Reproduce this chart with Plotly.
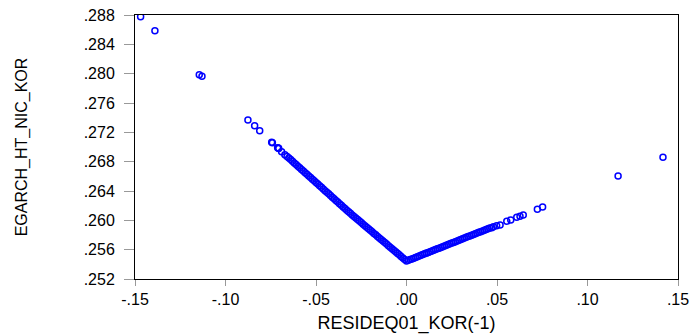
import plotly.graph_objects as go

# Isolated / sparse points
x_left_sparse = [-0.1469, -0.1390, -0.1145, -0.1130, -0.0876, -0.0839, -0.0811,
                 -0.0745, -0.0741, -0.0712, -0.0708, -0.0706, -0.0690, -0.0672]
y_left_sparse = [0.28777, 0.28586, 0.27986, 0.27964, 0.27368, 0.27291, 0.27222,
                 0.27065, 0.27059, 0.26991, 0.26985, 0.26980, 0.26935, 0.26895]

# Dense left branch (read along the band)
x_left_band = [-0.066, -0.065, -0.064, -0.063, -0.062, -0.061, -0.060, -0.059, -0.058,
               -0.057, -0.056, -0.055, -0.054, -0.053, -0.052, -0.051, -0.050, -0.049,
               -0.048, -0.047, -0.046, -0.045, -0.044, -0.043, -0.042, -0.041, -0.040,
               -0.039, -0.038, -0.037, -0.036, -0.035, -0.034, -0.033, -0.032, -0.031,
               -0.030, -0.029, -0.028, -0.027, -0.026, -0.025, -0.024, -0.023, -0.022,
               -0.021, -0.020, -0.019, -0.018, -0.017, -0.016, -0.015, -0.014, -0.013,
               -0.012, -0.011, -0.010, -0.009, -0.008, -0.007, -0.006, -0.005, -0.004,
               -0.003, -0.002, -0.001, 0.000]
y_left_band = [0.26872, 0.26850, 0.26828, 0.26806, 0.26783, 0.26761, 0.26739, 0.26717, 0.26694,
               0.26672, 0.26650, 0.26628, 0.26605, 0.26583, 0.26561, 0.26539, 0.26516, 0.26494,
               0.26472, 0.26450, 0.26427, 0.26405, 0.26383, 0.26361, 0.26338, 0.26316, 0.26294,
               0.26272, 0.26249, 0.26227, 0.26205, 0.26183, 0.26160, 0.26138, 0.26116, 0.26095,
               0.26074, 0.26053, 0.26032, 0.26011, 0.25990, 0.25969, 0.25948, 0.25927, 0.25906,
               0.25885, 0.25864, 0.25843, 0.25822, 0.25802, 0.25781, 0.25760, 0.25739, 0.25718,
               0.25697, 0.25676, 0.25655, 0.25634, 0.25613, 0.25592, 0.25571, 0.25550, 0.25529,
               0.25508, 0.25487, 0.25466, 0.25445]

# Dense right branch
x_right_band = [0.001, 0.002, 0.003, 0.004, 0.005, 0.006, 0.007, 0.008, 0.009, 0.010,
                0.011, 0.012, 0.013, 0.014, 0.015, 0.016, 0.017, 0.018, 0.019, 0.020,
                0.021, 0.022, 0.023, 0.024, 0.025, 0.026, 0.027, 0.028, 0.029, 0.030,
                0.031, 0.032, 0.033, 0.034, 0.035, 0.036, 0.037, 0.038, 0.039, 0.040,
                0.041, 0.042, 0.043, 0.044, 0.045, 0.046]
y_right_band = [0.25455, 0.25465, 0.25474, 0.25484, 0.25494, 0.25504, 0.25513, 0.25523, 0.25533, 0.25543,
                0.25553, 0.25562, 0.25572, 0.25582, 0.25592, 0.25601, 0.25611, 0.25621, 0.25631, 0.25641,
                0.25650, 0.25660, 0.25670, 0.25680, 0.25690, 0.25699, 0.25709, 0.25719, 0.25729, 0.25738,
                0.25748, 0.25758, 0.25768, 0.25778, 0.25787, 0.25797, 0.25807, 0.25817, 0.25826, 0.25836,
                0.25846, 0.25856, 0.25866, 0.25875, 0.25885, 0.25895]

# Sparse right points
x_right_sparse = [0.0471, 0.0480, 0.0498, 0.0517, 0.0554, 0.0576, 0.0609, 0.0627, 0.0645,
                  0.0723, 0.0752, 0.1169, 0.1417]
y_right_sparse = [0.25900, 0.25913, 0.25925, 0.25936, 0.25987, 0.26005, 0.26041, 0.26055, 0.26073,
                  0.26150, 0.26182, 0.26605, 0.26860]

x_vals = x_left_sparse + x_left_band + x_right_band + x_right_sparse
y_vals = y_left_sparse + y_left_band + y_right_band + y_right_sparse

x_ticks = [-0.15, -0.10, -0.05, 0.00, 0.05, 0.10, 0.15]
x_ticktext = ["-.15", "-.10", "-.05", ".00", ".05", ".10", ".15"]
y_ticks = [0.252, 0.256, 0.260, 0.264, 0.268, 0.272, 0.276, 0.280, 0.284, 0.288]
y_ticktext = [".252", ".256", ".260", ".264", ".268", ".272", ".276", ".280", ".284", ".288"]

font_family = "Liberation Sans, Arial, sans-serif"

fig = go.Figure()
fig.add_trace(go.Scatter(
    x=x_vals, y=y_vals, mode="markers",
    marker=dict(symbol="circle-open", size=6, color="#0000FF", line=dict(width=1.5, color="#0000FF")),
    showlegend=False, hoverinfo="x+y",
))

fig.update_layout(
    width=698, height=334,
    margin=dict(l=135, r=20, t=15, b=55),
    paper_bgcolor="white", plot_bgcolor="white",
    font=dict(family=font_family, color="black"),
    xaxis=dict(
        range=[-0.15, 0.15], tickvals=x_ticks, ticktext=x_ticktext,
        showgrid=False, zeroline=False, showline=True, linecolor="black", linewidth=1,
        mirror=True, ticks="outside", ticklen=6, tickcolor="#999999",
        tickfont=dict(size=16, family=font_family, color="black"),
        automargin=False,
        title=dict(text="RESIDEQ01_KOR(-1)", font=dict(size=18, family=font_family, color="black"), standoff=14),
    ),
    yaxis=dict(
        range=[0.252, 0.288], tickvals=y_ticks, ticktext=y_ticktext,
        showgrid=False, zeroline=False, showline=True, linecolor="black", linewidth=1,
        mirror=True, ticks="outside", ticklen=10, tickcolor="#999999",
        tickfont=dict(size=16, family=font_family, color="black"),
        ticklabelstandoff=6, automargin=False,
        title=dict(text="EGARCH_HT_NIC_KOR", font=dict(size=16, family=font_family, color="black"), standoff=52),
    ),
)

fig.write_html("out.html")
